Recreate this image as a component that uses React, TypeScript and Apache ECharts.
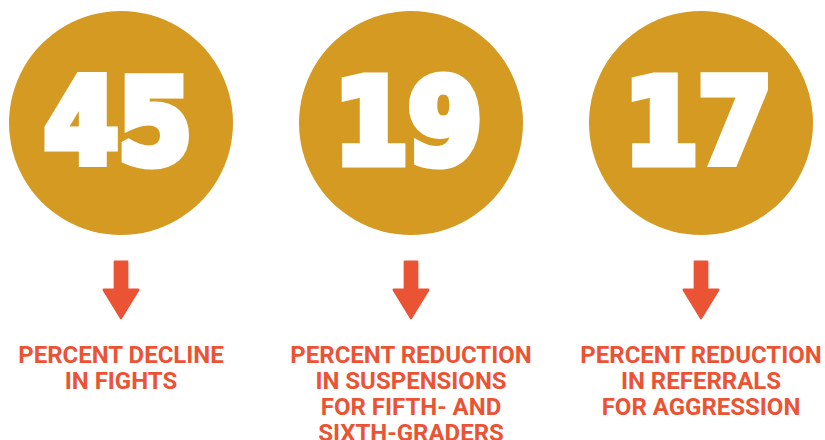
import React, { useEffect, useRef } from "react";
import * as echarts from "echarts";

const categories = ["fights", "suspensions", "referrals"];
const values = [45, 19, 17];
const captions = [
  ["PERCENT DECLINE", "IN FIGHTS"],
  ["PERCENT REDUCTION", "IN SUSPENSIONS", "FOR FIFTH- AND", "SIXTH-GRADERS"],
  ["PERCENT REDUCTION", "IN REFERRALS", "FOR AGGRESSION"],
];

const GOLD = "#D49A21";
const RED = "#EB5335";
const ARROW =
  "path://M12,0 L25,0 Q26,0 26,1 L26,28 L36,28 Q38,28 37,30 L19.5,58 Q18.5,59.5 17.5,58 L0,30 Q-1,28 1,28 L11,28 L11,1 Q11,0 12,0 Z";

export default function App() {
  const ref = useRef<HTMLDivElement>(null);
  useEffect(() => {
    if (!ref.current) return;
    const chart = echarts.init(ref.current, null, { renderer: "svg" });
    chart.setOption({
      animation: false,
      backgroundColor: "#ffffff",
      grid: { left: 121, right: 124, top: 0, bottom: 0 },
      xAxis: { type: "category", data: categories, show: false, boundaryGap: false },
      yAxis: { type: "value", min: 0, max: 440, inverse: true, show: false },
      series: [
        {
          type: "scatter",
          clip: false,
          symbol: "circle",
          symbolSize: 224,
          itemStyle: { color: GOLD, opacity: 1 },
          emphasis: { disabled: true },
          data: values.map((v, i) => [categories[i], 123]),
          label: {
            show: true,
            position: "inside",
            formatter: (p: any) => String(values[p.dataIndex]),
            color: "#ffffff",
            fontFamily: "DejaVu Sans Condensed",
            fontWeight: "bold",
            fontSize: 118,
            textBorderColor: "#ffffff",
            textBorderWidth: 9,
            offset: [-3, -1],
          },
        },
        {
          type: "scatter",
          clip: false,
          symbol: ARROW,
          symbolSize: [37, 59],
          itemStyle: { color: RED, opacity: 1 },
          emphasis: { disabled: true },
          data: categories.map((c) => [c, 290]),
          label: {
            show: true,
            position: "bottom",
            distance: 22,
            formatter: (p: any) => captions[p.dataIndex].join("\n"),
            color: RED,
            fontFamily: "Roboto",
            fontWeight: "bold",
            fontSize: 24,
            lineHeight: 26,
            align: "center",
          },
        },
      ],
    });
    return () => chart.dispose();
  }, []);
  return (
    <div
      ref={ref}
      style={{ position: "fixed", left: 0, top: 0, width: 825, height: 440 }}
    />
  );
}
